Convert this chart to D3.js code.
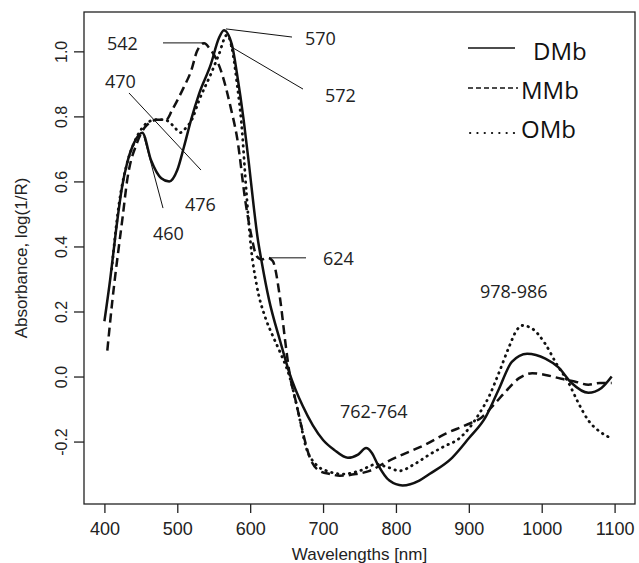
<!DOCTYPE html>
<html>
<head>
<meta charset="utf-8">
<script src="https://cdn.jsdelivr.net/npm/d3@7"></script>
<style>
  body { margin: 0; background: #fff; }
  svg { display: block; }
</style>
</head>
<body>
<div id="chart"></div>
<script>
// tick values
const wavelengthTicks = [400, 500, 600, 700, 800, 900, 1000, 1100];
const absTicks = [-0.2, 0.0, 0.2, 0.4, 0.6, 0.8, 1.0];

// series: [wavelength nm, log(1/R)]
const dmb = [
  [400, 0.17], [408, 0.30], [416, 0.45], [424, 0.58], [431, 0.655], [441, 0.72], [452, 0.75],
  [464, 0.665], [478, 0.61], [489, 0.60], [500, 0.635], [509, 0.705], [519, 0.79], [530, 0.87],
  [546, 0.96], [557, 1.04], [564, 1.065], [575, 1.02], [582, 0.93], [591, 0.79], [598, 0.66],
  [605, 0.52], [610, 0.43], [616, 0.35], [626, 0.235], [641, 0.11], [654, 0.01], [672, -0.09],
  [686, -0.15], [700, -0.195], [715, -0.225], [734, -0.25], [748, -0.24], [759, -0.22], [767, -0.235],
  [775, -0.27], [791, -0.32], [809, -0.335], [832, -0.32], [846, -0.30], [877, -0.25], [900, -0.19],
  [923, -0.125], [941, -0.04], [959, 0.045], [980, 0.07], [1005, 0.055], [1023, 0.028],
  [1041, -0.02], [1064, -0.05], [1082, -0.035], [1096, 0.0]
];
const mmb = [
  [404, 0.08], [411, 0.235], [421, 0.42], [425, 0.49], [431, 0.60], [445, 0.72], [455, 0.765],
  [462, 0.78], [472, 0.79], [485, 0.79], [493, 0.82], [509, 0.89], [519, 0.94], [527, 1.0],
  [537, 1.025], [544, 1.01], [560, 0.94], [574, 0.82], [582, 0.735], [594, 0.53], [601, 0.44],
  [609, 0.37], [616, 0.36], [624, 0.365], [631, 0.355], [641, 0.24], [648, 0.11], [654, 0.01],
  [663, -0.08], [670, -0.15], [682, -0.25], [695, -0.29], [710, -0.30], [723, -0.305], [745, -0.30],
  [764, -0.29], [785, -0.265], [809, -0.24], [840, -0.21], [869, -0.175], [895, -0.15],
  [918, -0.125], [935, -0.085], [951, -0.045], [969, -0.005], [987, 0.01], [1005, 0.005],
  [1027, -0.007], [1045, -0.015], [1064, -0.025], [1080, -0.02], [1096, -0.02]
];
const omb = [
  [410, 0.33], [420, 0.53], [431, 0.655], [441, 0.72], [452, 0.765], [462, 0.785], [472, 0.79],
  [482, 0.79], [495, 0.77], [504, 0.75], [512, 0.765], [520, 0.79], [530, 0.85], [546, 0.93],
  [557, 0.99], [568, 1.05], [575, 1.01], [582, 0.90], [588, 0.78], [595, 0.56], [601, 0.40],
  [609, 0.28], [621, 0.18], [630, 0.13], [641, 0.075], [654, 0.0], [665, -0.10], [677, -0.22],
  [690, -0.27], [705, -0.29], [727, -0.30], [750, -0.29], [773, -0.27], [790, -0.28], [805, -0.29],
  [825, -0.27], [846, -0.24], [866, -0.215], [887, -0.19], [900, -0.16], [914, -0.115],
  [928, -0.06], [941, 0.01], [955, 0.09], [965, 0.14], [973, 0.157], [985, 0.15], [1005, 0.10],
  [1020, 0.04], [1037, -0.02], [1050, -0.08], [1064, -0.135], [1080, -0.17], [1096, -0.19]
];

// peak labels and their leader lines, in data units
const peakLabels = [
  { text: "542", at: [403.6, 1.004] },
  { text: "470", at: [400.8, 0.887] },
  { text: "476", at: [510.6, 0.509] },
  { text: "460", at: [466.7, 0.420] },
  { text: "570", at: [675.2, 1.020] },
  { text: "572", at: [702.7, 0.844] },
  { text: "624", at: [699.9, 0.343] },
  { text: "762-764", at: [723.2, -0.127] },
  { text: "978-986", at: [915.3, 0.242] }
];
const leaders = [
  [[480.4, 1.026], [536.6, 1.026]],
  [[566.8, 1.069], [657.4, 1.044]],
  [[572.3, 1.016], [672.5, 0.884]],
  [[433.7, 0.872], [532.5, 0.635]],
  [[454.3, 0.737], [480.4, 0.518]],
  [[627.2, 0.365], [676.6, 0.365]]
];

const seriesNames = ["DMb", "MMb", "OMb"];
const seriesData = [dmb, mmb, omb];

const W = 639, H = 563;
const plot = { left: 84, right: 635, top: 12, bottom: 504 };

const svg = d3.select("#chart")
    .append("svg")
    .attr("width", W)
    .attr("height", H);

const x = d3.scaleLinear().domain([372, 1128]).range([plot.left, plot.right]);
const y = d3.scaleLinear().domain([-0.392, 1.121]).range([plot.bottom, plot.top]);

const tickFont = "'Liberation Sans', Arial, sans-serif";
const noteFont = "'Open Sans', 'Noto Sans', sans-serif";

// dash styles for the three spectra
const dashes = ["none", "9,5", "0.5,5.5"];

const line = d3.line()
    .x(d => x(d[0]))
    .y(d => y(d[1]))
    .curve(d3.curveMonotoneX);

svg.selectAll(".spectrum")
    .data(seriesData)
    .enter()
    .append("path")
    .attr("class", "spectrum")
    .attr("d", d => line(d))
    .attr("fill", "none")
    .attr("stroke", "#111")
    .attr("stroke-width", (d, i) => i == 2 ? 2.8 : 2.5)
    .attr("stroke-linecap", (d, i) => i == 2 ? "round" : "butt")
    .attr("stroke-dasharray", (d, i) => dashes[i]);

// frame
svg.append("rect")
    .attr("x", plot.left)
    .attr("y", plot.top)
    .attr("width", plot.right - plot.left)
    .attr("height", plot.bottom - plot.top)
    .attr("fill", "none")
    .attr("stroke", "#222")
    .attr("stroke-width", 1.3);

// x axis
const xAxis = svg.append("g")
    .attr("transform", `translate(0,${plot.bottom})`)
    .call(d3.axisBottom(x).tickValues(wavelengthTicks).tickSize(9).tickPadding(9)
        .tickFormat(d3.format("d")));
xAxis.select(".domain").remove();
xAxis.selectAll("line").attr("stroke", "#222").attr("stroke-width", 1.3);
xAxis.selectAll("text")
    .attr("fill", "#222")
    .style("font-family", tickFont)
    .style("font-size", "18px");

// y axis, labels turned like R does
const yAxis = svg.append("g")
    .attr("transform", `translate(${plot.left},0)`)
    .call(d3.axisLeft(y).tickValues(absTicks).tickSize(10).tickFormat(d => d.toFixed(1)));
yAxis.select(".domain").remove();
yAxis.selectAll("line").attr("stroke", "#222").attr("stroke-width", 1.3);
yAxis.selectAll("text")
    .attr("x", 0)
    .attr("y", 0)
    .attr("dy", 0)
    .attr("transform", "translate(-17,0) rotate(-90)")
    .attr("text-anchor", "middle")
    .attr("fill", "#222")
    .style("font-family", tickFont)
    .style("font-size", "16px");

// axis titles
svg.append("text")
    .attr("x", (plot.left + plot.right) / 2)
    .attr("y", 560)
    .attr("text-anchor", "middle")
    .attr("fill", "#222")
    .style("font-family", tickFont)
    .style("font-size", "17px")
    .text("Wavelengths [nm]");

svg.append("text")
    .attr("transform", `translate(27,${(plot.top + plot.bottom) / 2}) rotate(-90)`)
    .attr("text-anchor", "middle")
    .attr("fill", "#222")
    .style("font-family", tickFont)
    .style("font-size", "17px")
    .text("Absorbance, log(1/R)");

// leader lines
svg.selectAll(".leader")
    .data(leaders)
    .enter()
    .append("line")
    .attr("class", "leader")
    .attr("x1", d => x(d[0][0]))
    .attr("y1", d => y(d[0][1]))
    .attr("x2", d => x(d[1][0]))
    .attr("y2", d => y(d[1][1]))
    .attr("stroke", "#111")
    .attr("stroke-width", 1);

svg.selectAll(".peak")
    .data(peakLabels)
    .enter()
    .append("text")
    .attr("class", "peak")
    .attr("x", d => x(d.at[0]))
    .attr("y", d => y(d.at[1]))
    .attr("fill", "#222")
    .style("font-family", noteFont)
    .style("font-size", "18px")
    .text(d => d.text);

// legend
const legend = svg.append("g")
    .attr("transform", "translate(468,50)");

const legendItem = legend.selectAll(".legend-item")
    .data(seriesNames)
    .enter()
    .append("g")
    .attr("class", "legend-item")
    .attr("transform", (d, i) => `translate(0,${i * 39})`);

legendItem.append("line")
    .attr("x1", (d, i) => i == 2 ? 2 : 0)
    .attr("x2", (d, i) => i == 0 ? 47 : 50)
    .attr("y1", (d, i) => i == 2 ? 5 : (i == 1 ? -1 : -2))
    .attr("y2", (d, i) => i == 2 ? 5 : (i == 1 ? -1 : -2))
    .attr("stroke", "#111")
    .attr("stroke-width", (d, i) => i == 2 ? 2 : 1.4)
    .attr("stroke-linecap", (d, i) => i == 2 ? "round" : "butt")
    .attr("stroke-dasharray", (d, i) => ["none", "5,3", "0.3,7"][i]);

legendItem.append("text")
    .attr("x", (d, i) => i == 0 ? 65 : 53)
    .attr("y", 10)
    .attr("fill", "#111")
    .style("font-family", noteFont)
    .style("font-size", "24px")
    .text(d => d);
</script>
</body>
</html>
